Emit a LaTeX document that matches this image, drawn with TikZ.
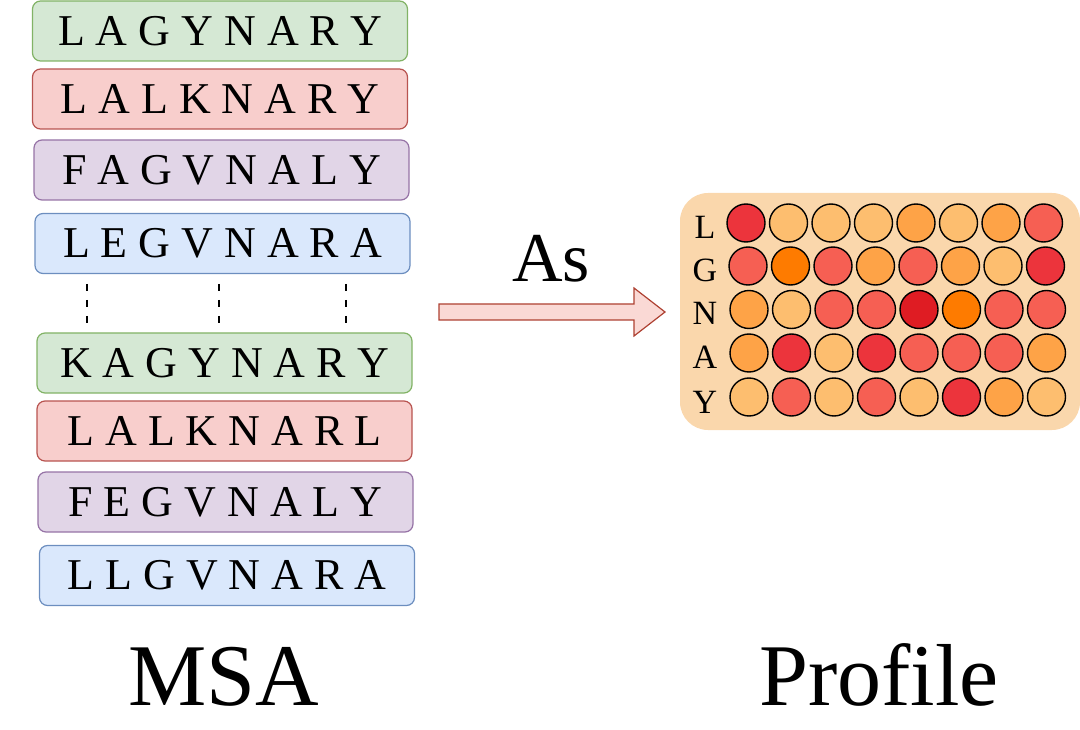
\documentclass[tikz,border=0pt]{standalone}
\usepackage{fontspec}
\setmainfont{Liberation Serif}
\definecolor{gfill}{HTML}{D5E8D4}\definecolor{gline}{HTML}{82B366}
\definecolor{rfill}{HTML}{F8CECC}\definecolor{rline}{HTML}{B85450}
\definecolor{pfill}{HTML}{E1D5E7}\definecolor{pline}{HTML}{9673A6}
\definecolor{bfill}{HTML}{DAE8FC}\definecolor{bline}{HTML}{6C8EBF}
\definecolor{afill}{HTML}{FAD9D5}\definecolor{aline}{HTML}{AE4132}
\definecolor{profbg}{HTML}{FAD7AC}
\definecolor{cLo}{HTML}{FDBE6F}
\definecolor{cMo}{HTML}{FEA347}
\definecolor{cBo}{HTML}{FE7B00}
\definecolor{cSa}{HTML}{F65F53}
\definecolor{cRe}{HTML}{EC343C}
\definecolor{cDr}{HTML}{DF1C23}
\tikzset{
  seqbox/.style={rectangle, rounded corners=8pt, line width=1.2pt, minimum width=375pt, minimum height=60pt, inner sep=0pt, font=\fontsize{44}{50}\selectfont},
  gseq/.style={seqbox, draw=gline, fill=gfill},
  rseq/.style={seqbox, draw=rline, fill=rfill},
  pseq/.style={seqbox, draw=pline, fill=pfill},
  bseq/.style={seqbox, draw=bline, fill=bfill},
  dotline/.style={line width=2.4pt, dash pattern=on 7pt off 9pt},
  cell/.style={circle, draw=black, line width=1.4pt, minimum size=38pt, inner sep=0pt},
  rowlab/.style={font=\fontsize{34}{38}\selectfont, inner sep=0pt, anchor=base},
  bigtitle/.style={font=\fontsize{88}{96}\selectfont, inner sep=0pt, anchor=base}
}
\begin{document}
\begin{tikzpicture}[x=1pt,y=-1pt]
\useasboundingbox (0,0) rectangle (1080,730);
% MSA sequences
\node[gseq] (s1) at (220,31) {L A G Y N A R Y};
\node[rseq] (s2) at (220,99) {L A L K N A R Y};
\node[pseq] (s3) at (221.5,170) {F A G V N A L Y};
\node[bseq] (s4) at (222.5,243.5) {L E G V N A R A};
\node[gseq] (s5) at (224.5,363) {K A G Y N A R Y};
\node[rseq] (s6) at (224.5,431) {L A L K N A R L};
\node[pseq] (s7) at (225.5,502) {F E G V N A L Y};
\node[bseq] (s8) at (227,575.5) {L L G V N A R A};
% dashed ellipsis
\coordinate (d1a) at (87,284); \coordinate (d1b) at (87,325);
\coordinate (d2a) at (219,284); \coordinate (d2b) at (219,325);
\coordinate (d3a) at (346,284); \coordinate (d3b) at (346,325);
\draw[dotline] (d1a) -- (d1b);
\draw[dotline] (d2a) -- (d2b);
\draw[dotline] (d3a) -- (d3b);
% block arrow
\draw[draw=aline, fill=afill, line width=1.2pt, line join=miter]
  (439,304) -- (634,304) -- (634,288) -- (665,312) -- (634,336) -- (634,320) -- (439,320) -- cycle;
\node[font=\fontsize{70}{76}\selectfont, inner sep=0pt, anchor=base] (as) at (551,282) {As};
% profile
\node[rectangle, rounded corners=28pt, fill=profbg, minimum width=400pt, minimum height=237pt, inner sep=0pt] (prof) at (880,311.5) {};
\node[rowlab] (lL) at (705,239) {L};
\node[rowlab] (lG) at (705,282) {G};
\node[rowlab] (lN) at (705,325) {N};
\node[rowlab] (lA) at (705,369) {A};
\node[rowlab] (lY) at (705,413) {Y};
\foreach \c [count=\i] in {cRe,cLo,cLo,cLo,cMo,cLo,cMo,cSa}
  \node[cell, fill=\c] (c1-\i) at ({746+42.5*(\i-1)},223) {};
\foreach \c [count=\i] in {cSa,cBo,cSa,cMo,cSa,cMo,cLo,cRe}
  \node[cell, fill=\c] (c2-\i) at ({748+42.5*(\i-1)},266) {};
\foreach \c [count=\i] in {cMo,cLo,cSa,cSa,cDr,cBo,cSa,cSa}
  \node[cell, fill=\c] (c3-\i) at ({749+42.5*(\i-1)},309.5) {};
\foreach \c [count=\i] in {cMo,cRe,cLo,cRe,cSa,cSa,cSa,cMo}
  \node[cell, fill=\c] (c4-\i) at ({749+42.5*(\i-1)},353) {};
\foreach \c [count=\i] in {cLo,cSa,cLo,cSa,cLo,cRe,cMo,cLo}
  \node[cell, fill=\c] (c5-\i) at ({749+42.5*(\i-1)},397) {};
% titles
\node[bigtitle] (msa) at (224,705) {MSA};
\node[bigtitle] (proftitle) at (879,705) {Profile};
\end{tikzpicture}
\end{document}
